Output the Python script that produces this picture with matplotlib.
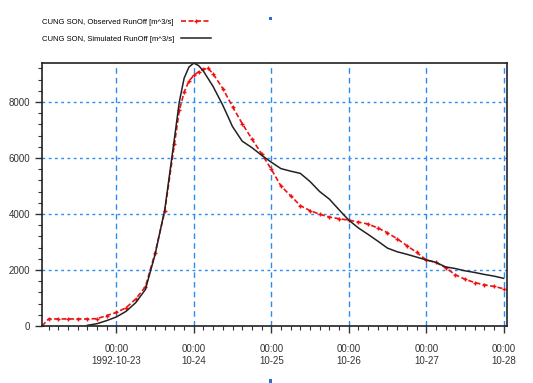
import numpy as np
import matplotlib
matplotlib.use('Agg')
import matplotlib.pyplot as plt
import matplotlib.dates as mdates
from matplotlib.patches import Rectangle

# hours relative to 1992-10-23 00:00
obs_hours = [-23, -21, -18, -15, -12, -9, -6, -3, 0, 3, 6, 9, 12, 15, 18, 19.5, 21, 22.5, 24,
             25.5, 27, 28.5, 30, 33, 36, 39, 42, 45, 48, 51, 54, 57, 60, 63, 66, 69, 72, 75,
             78, 81, 84, 87, 90, 93, 96, 99, 102, 105, 108, 111, 114, 117, 120]
obs_flow = [0, 250, 250, 250, 250, 250, 260, 370, 480, 650, 960, 1400, 2600, 4100, 6500, 7700,
            8350, 8750, 8950, 9080, 9180, 9200, 9000, 8480, 7830, 7230, 6680, 6150, 5600, 5000,
            4650, 4300, 4120, 3990, 3890, 3830, 3780, 3710, 3640, 3500, 3330, 3110, 2870, 2630,
            2360, 2270, 2080, 1830, 1670, 1550, 1470, 1410, 1330]

sim_hours = [-9, -6, -3, 0, 3, 6, 9, 12, 15, 18, 19.5, 21, 22.5, 24, 25.5, 27, 30, 33, 36, 39,
             42, 45, 48, 51, 54, 57, 60, 63, 66, 69, 72, 75, 78, 81, 84, 87, 90, 93, 96, 99,
             102, 105, 108, 111, 114, 117, 120]
sim_flow = [20, 80, 190, 320, 520, 830, 1300, 2550, 4150, 6700, 8000, 8850, 9250, 9390, 9300,
            9100, 8550, 7880, 7120, 6600, 6370, 6100, 5850, 5620, 5530, 5450, 5160, 4800, 4530,
            4150, 3780, 3500, 3270, 3030, 2780, 2650, 2560, 2460, 2360, 2270, 2110, 2050, 1970,
            1910, 1840, 1780, 1700]

obs_label = 'CUNG SON, Observed RunOff [m^3/s]'
sim_label = 'CUNG SON, Simulated RunOff [m^3/s]'
y_ticks = [0, 2000, 4000, 6000, 8000]

t0 = np.datetime64('1992-10-23T00:00')
obs_t = t0 + (np.array(obs_hours) * 60).astype('timedelta64[m]')
sim_t = t0 + (np.array(sim_hours) * 60).astype('timedelta64[m]')

plt.rcParams['font.family'] = ['Liberation Sans Narrow', 'Liberation Sans', 'DejaVu Sans']

fig = plt.figure(figsize=(5.33, 3.83), dpi=100)
ax = fig.add_axes([0.079, 0.149, 0.872, 0.687])

ax.plot(obs_t, obs_flow, color='#ee1111', ls=(0, (3, 1.5)), lw=1.2, marker='+',
        ms=3, mew=1.0, label=obs_label)
ax.plot(sim_t, sim_flow, color='#222222', lw=1.1, label=sim_label)

ax.set_xlim(t0 - np.timedelta64(23, 'h'), t0 + np.timedelta64(121, 'h'))
ax.set_ylim(0, 9400)

ax.xaxis.set_major_locator(mdates.DayLocator())
ax.xaxis.set_minor_locator(mdates.HourLocator(byhour=range(0, 24, 3)))


def fmt_date(x, pos):
    d = mdates.num2date(x)
    if d.day == 23:
        return d.strftime('%H:%M\n%Y-%m-%d')
    return d.strftime('%H:%M\n%m-%d')


ax.xaxis.set_major_formatter(plt.FuncFormatter(fmt_date))
ax.set_yticks(y_ticks)
ax.yaxis.set_minor_locator(plt.MultipleLocator(400))

ax.tick_params(axis='both', which='major', direction='out', length=5, width=1.0,
               labelsize=7, colors='#333333')
ax.tick_params(axis='both', which='minor', direction='out', length=3, width=0.8, color='#333333')
ax.tick_params(axis='x', which='major', pad=8)

ax.grid(True, axis='y', which='major', color='#2a8cf0', ls=(0, (2, 2.5)), lw=1.0)
ax.grid(True, axis='x', which='major', color='#2a8cf0', ls=(0, (4, 3)), lw=1.0)

for side in ['left', 'bottom', 'top', 'right']:
    ax.spines[side].set_color('#222222')
    ax.spines[side].set_linewidth(1.2)

fig.legend(loc='upper left', bbox_to_anchor=(0.065, 0.97), frameon=False, fontsize=5.5,
           markerfirst=False, handlelength=4.0, labelspacing=1.3, handletextpad=0.9)

# small blue marks seen in the picture
fig.add_artist(Rectangle((0.505, 0.948), 0.005, 0.008, transform=fig.transFigure,
                         color='#2a6fd0', lw=0))
fig.add_artist(Rectangle((0.505, 0.0), 0.005, 0.01, transform=fig.transFigure,
                         color='#2a6fd0', lw=0))

fig.savefig('out.png', dpi=100)
